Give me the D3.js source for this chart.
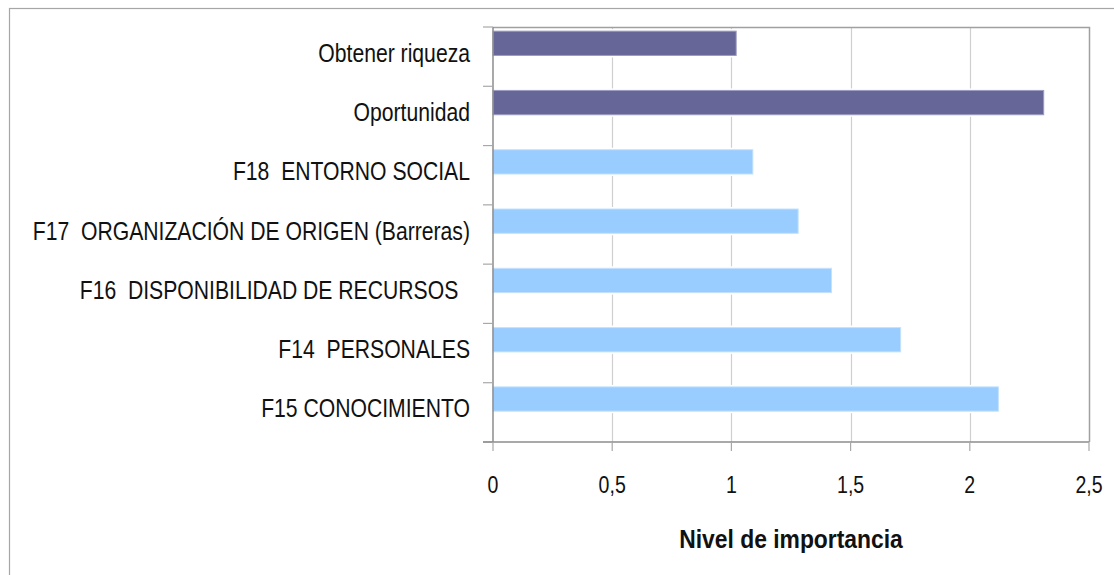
<!DOCTYPE html>
<html>
<head>
<meta charset="utf-8">
<script src="https://cdn.jsdelivr.net/npm/d3@7"></script>
<style>
  html, body { margin: 0; padding: 0; background: #fff; }
  svg text { font-family: "Liberation Sans", Arial, sans-serif; fill: #111; white-space: pre; }
</style>
</head>
<body>
<svg id="chart" width="1114" height="575"></svg>
<script>
// Factors, top to bottom
const categories = [
  "Obtener riqueza",
  "Oportunidad",
  "F18  ENTORNO SOCIAL",
  "F17  ORGANIZACIÓN DE ORIGEN (Barreras)",
  "F16  DISPONIBILIDAD DE RECURSOS  ",
  "F14  PERSONALES",
  "F15 CONOCIMIENTO"
];
// Importance level of each factor
const values = [1.02, 2.31, 1.09, 1.28, 1.42, 1.71, 2.12];
// Which group each factor belongs to (motivations vs. F-factors)
const groups = ["motivo", "motivo", "factor", "factor", "factor", "factor", "factor"];
const xTicks = [0, 0.5, 1, 1.5, 2, 2.5];
const xTickLabels = ["0", "0,5", "1", "1,5", "2", "2,5"];
const axisTitle = "Nivel de importancia";

const colors = { motivo: "#666699", factor: "#99CCFF" };
const strokes = { motivo: "#9c9cc0", factor: "#c4e2ff" };

const svg = d3.select("#chart");
const plot = { left: 493, right: 1089, top: 27, bottom: 442 };

const x = d3.scaleLinear().domain([0, 2.5]).range([plot.left, plot.right]);
const y = d3.scaleBand().domain(categories).range([plot.top, plot.bottom]).padding(0);
const bw = y.bandwidth();

// outer chart frame
svg.append("rect")
  .attr("x", 9.5).attr("y", 8.5).attr("width", 1130).attr("height", 600)
  .attr("fill", "none").attr("stroke", "#a6a6a6").attr("stroke-width", 1.2);

// vertical gridlines
svg.append("g").selectAll("line")
  .data(xTicks.slice(1, -1))
  .join("line")
  .attr("x1", d => Math.round(x(d)) + 0.5).attr("x2", d => Math.round(x(d)) + 0.5)
  .attr("y1", plot.top).attr("y2", plot.bottom)
  .attr("stroke", "#cfcfcf").attr("stroke-width", 1.2);

// plot area frame (top and right)
svg.append("path")
  .attr("d", `M${plot.left},${plot.top + 0.5}H${plot.right + 0.5}V${plot.bottom}`)
  .attr("fill", "none").attr("stroke", "#a0a0a0").attr("stroke-width", 1.5);

// bars: white halo, then the coloured bar
const barY = d => y(d) + bw * 0.07;
const barH = bw * 0.41;

svg.append("g").selectAll("rect")
  .data(categories)
  .join("rect")
  .attr("x", plot.left)
  .attr("y", d => barY(d) - 2)
  .attr("width", (d, i) => x(values[i]) - plot.left + 2)
  .attr("height", barH + 4)
  .attr("fill", "#fff");

svg.append("g").selectAll("rect")
  .data(categories)
  .join("rect")
  .attr("x", plot.left)
  .attr("y", d => barY(d))
  .attr("width", (d, i) => x(values[i]) - plot.left)
  .attr("height", barH)
  .attr("fill", (d, i) => colors[groups[i]])
  .attr("stroke", (d, i) => strokes[groups[i]])
  .attr("stroke-width", 1);

// y axis line and category boundary ticks
const yAxis = svg.append("g").attr("stroke", "#8c8c8c").attr("stroke-width", 1.5);
yAxis.append("line")
  .attr("x1", plot.left).attr("x2", plot.left)
  .attr("y1", plot.top).attr("y2", plot.bottom);
const boundaries = categories.map(c => y(c)).concat([plot.bottom]);
yAxis.selectAll("line.tick")
  .data(boundaries)
  .join("line").attr("class", "tick")
  .attr("x1", plot.left - 10).attr("x2", plot.left)
  .attr("y1", d => d).attr("y2", d => d)
  .attr("stroke", "#a8a8a8").attr("stroke-width", 1.2);

// x axis line and ticks
const xAxis = svg.append("g");
xAxis.append("line")
  .attr("x1", plot.left - 10).attr("x2", plot.right)
  .attr("y1", plot.bottom).attr("y2", plot.bottom)
  .attr("stroke", "#8c8c8c").attr("stroke-width", 1.5);
xAxis.selectAll("line.tick")
  .data(xTicks)
  .join("line").attr("class", "tick")
  .attr("x1", d => x(d)).attr("x2", d => x(d))
  .attr("y1", plot.bottom).attr("y2", plot.bottom + 9)
  .attr("stroke", "#a8a8a8").attr("stroke-width", 1.2);

// x tick labels
svg.append("g").selectAll("text")
  .data(xTicks)
  .join("text")
  .attr("transform", d => `translate(${x(d)},${493}) scale(0.85,1)`)
  .attr("text-anchor", "middle")
  .style("font-size", "23px")
  .text((d, i) => xTickLabels[i]);

// category labels
svg.append("g").selectAll("text")
  .data(categories)
  .join("text")
  .attr("transform", d => `translate(${470},${y(d) + bw / 2 + 5}) scale(0.83,1)`)
  .attr("text-anchor", "end")
  .style("font-size", "25.5px")
  .text(d => d);

// axis title
svg.append("text")
  .attr("transform", `translate(${(plot.left + plot.right) / 2},${548}) scale(0.88,1)`)
  .attr("text-anchor", "middle")
  .style("font-size", "26px")
  .style("font-weight", "bold")
  .text(axisTitle);
</script>
</body>
</html>
